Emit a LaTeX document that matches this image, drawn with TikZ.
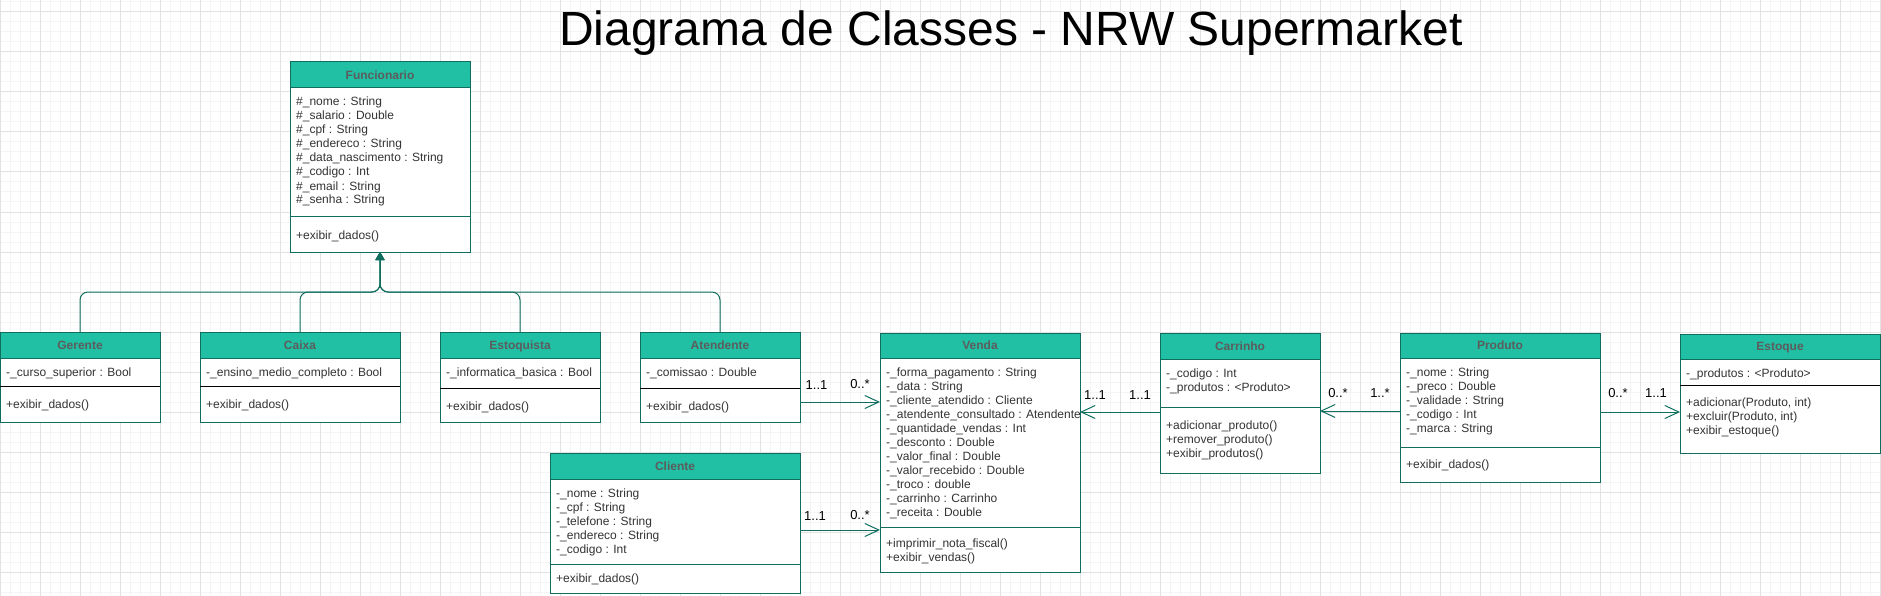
\documentclass[tikz,border=0pt]{standalone}
\usepackage{fontspec}
\setmainfont{Liberation Sans}
\usetikzlibrary{arrows.meta,calc}
\definecolor{tealfill}{HTML}{21C0A5}
\definecolor{tealline}{HTML}{0F6E5E}
\definecolor{hdrtext}{HTML}{5C5C5C}
\definecolor{bodytext}{HTML}{333333}
\definecolor{gridmin}{HTML}{F4F4F4}
\definecolor{gridmaj}{HTML}{E2E2E2}
\tikzset{
  classbox/.style={draw=tealline, fill=white, line width=1pt, inner sep=0pt, outer sep=0pt, anchor=north west},
  hdrbox/.style={draw=tealline, fill=tealfill, line width=1pt, inner sep=0pt, outer sep=0pt, anchor=north west,
    font=\fontsize{12}{14}\selectfont\bfseries, text=hdrtext, text height=8.6pt, text depth=0pt},
  txt/.style={anchor=base west, inner sep=0pt, font=\fontsize{12}{14}\selectfont, text=bodytext},
  mult/.style={inner sep=0pt, font=\fontsize{13}{15}\selectfont, text=black, text height=9.3pt, text depth=0pt},
  gen/.style={draw=tealline, line width=1pt, rounded corners=8pt, -{Triangle[length=8pt,width=9pt]}},
  assoc/.style={draw=tealline, line width=1pt, -{Straight Barb[length=14pt,width=13pt]}},
  gridminor/.style={draw=gridmin, line width=1pt},
  gridmajor/.style={draw=gridmaj, line width=1pt}
}
\newcommand\umlclass[9]{%
  \node[classbox, minimum width=#4pt, minimum height=#5pt] (#1) at (#2,#3) {};
  \node[hdrbox, minimum width=#4pt, minimum height=#6pt] (#1-h) at (#2,#3) {#9};
  \draw[draw=#8, line width=1pt] (#2,#7) -- (#2+#4,#7);
}
\newcommand\umllines[4]{%
  \foreach \ltext [count=\i] in {#4} {\node[txt] (#1-\i) at (#2,#3+14*\i-14) {\ltext};}
}
\begin{document}
\begin{tikzpicture}[x=1pt,y=-1pt]
\useasboundingbox (0,0) rectangle (1881,596);
\fill[white] (0,0) rectangle (1881,596);
\foreach \x in {0,10,...,1880} \draw[gridminor] (\x,0) -- (\x,596);
\foreach \y in {2,12,...,592} \draw[gridminor] (0,\y) -- (1881,\y);
\foreach \x in {0,40,...,1880} \draw[gridmajor] (\x,0) -- (\x,596);
\foreach \y in {12,52,...,572} \draw[gridmajor] (0,\y) -- (1881,\y);

\node[anchor=base, inner sep=0pt, font=\fontsize{48}{56}\selectfont] (title) at (1011,46) {Diagrama de Classes - NRW Supermarket};

% classes
\umlclass{fun}{290}{62}{180}{190}{26}{216}{tealline}{Funcionario}
\umllines{funa}{296}{106}{\#\_nome : String,\#\_salario : Double,\#\_cpf : String,\#\_endereco : String,\#\_data\_nascimento : String,\#\_codigo : Int,\#\_email : String,\#\_senha : String}
\umllines{funm}{296}{239}{+exibir\_dados()}

\umlclass{ger}{0}{332}{160}{90}{26}{386}{black}{Gerente}
\umllines{gera}{6}{376}{-\_curso\_superior : Bool}
\umllines{germ}{6}{408}{+exibir\_dados()}

\umlclass{cai}{200}{332}{200}{90}{26}{386}{black}{Caixa}
\umllines{caia}{206}{376}{-\_ensino\_medio\_completo : Bool}
\umllines{caim}{206}{408}{+exibir\_dados()}

\umlclass{esq}{440}{332}{160}{90}{26}{388}{black}{Estoquista}
\umllines{esqa}{446}{376}{-\_informatica\_basica : Bool}
\umllines{esqm}{446}{410}{+exibir\_dados()}

\umlclass{ate}{640}{332}{160}{90}{26}{388}{black}{Atendente}
\umllines{atea}{646}{376}{-\_comissao : Double}
\umllines{atem}{646}{410}{+exibir\_dados()}

\umlclass{ven}{880}{333}{200}{239}{25}{527}{tealline}{Venda}
\umllines{vena}{886}{376}{-\_forma\_pagamento : String,-\_data : String,-\_cliente\_atendido : Cliente,-\_atendente\_consultado : Atendente,-\_quantidade\_vendas : Int,-\_desconto : Double,-\_valor\_final : Double,-\_valor\_recebido : Double,-\_troco : double,-\_carrinho : Carrinho,-\_receita : Double}
\umllines{venm}{886}{547}{+imprimir\_nota\_fiscal(),+exibir\_vendas()}

\umlclass{cli}{550}{453}{250}{140}{26}{564}{tealline}{Cliente}
\umllines{clia}{556}{497}{-\_nome : String,-\_cpf : String,-\_telefone : String,-\_endereco : String,-\_codigo : Int}
\umllines{clim}{556}{582}{+exibir\_dados()}

\umlclass{car}{1160}{333}{160}{140}{26}{407}{tealline}{Carrinho}
\umllines{cara}{1166}{377}{-\_codigo : Int,-\_produtos : <Produto>}
\umllines{carm}{1166}{429}{+adicionar\_produto(),+remover\_produto(),+exibir\_produtos()}

\umlclass{pro}{1400}{333}{200}{149}{25}{447}{tealline}{Produto}
\umllines{proa}{1406}{376}{-\_nome : String,-\_preco : Double,-\_validade : String,-\_codigo : Int,-\_marca : String}
\umllines{prom}{1406}{468}{+exibir\_dados()}

\umlclass{est}{1680}{334}{200}{119}{25}{385}{black}{Estoque}
\umllines{esta}{1686}{377}{-\_produtos : <Produto>}
\umllines{estm}{1686}{406}{{+adicionar(Produto, int)},{+excluir(Produto, int)},+exibir\_estoque()}

% generalization
\coordinate (hub) at (380,292);
\draw[gen] (ger.north) -- (ger.north |- hub) -- (hub) -- (fun.south);
\draw[gen] (cai.north) -- (cai.north |- hub) -- (hub) -- (fun.south);
\draw[gen] (esq.north) -- (esq.north |- hub) -- (hub) -- (fun.south);
\draw[gen] (ate.north) -- (ate.north |- hub) -- (hub) -- (fun.south);

% associations
\coordinate (a1) at ([yshift=-25pt]ate.east);
\draw[assoc] (a1) -- (a1 -| ven.west);
\coordinate (a2) at ([yshift=-7pt]cli.east);
\draw[assoc] (a2) -- (a2 -| ven.west);
\coordinate (a3) at ([yshift=-9pt]car.west);
\draw[assoc] (a3) -- (a3 -| ven.east);
\coordinate (a4) at ([yshift=-3.5pt]pro.west);
\draw[assoc] (a4) -- (a4 -| car.east);
\coordinate (a5) at ([yshift=-4.5pt]pro.east);
\draw[assoc] (a5) -- (a5 -| est.west);

% multiplicities
\node[mult] (m1) at (816.5,385) {1..1};
\node[mult] (m2) at (860,384) {0..*};
\node[mult] (m3) at (815,516) {1..1};
\node[mult] (m4) at (860,515) {0..*};
\node[mult] (m5) at (1095,395) {1..1};
\node[mult] (m6) at (1140,395) {1..1};
\node[mult] (m7) at (1338,393) {0..*};
\node[mult] (m8) at (1380,393) {1..*};
\node[mult] (m9) at (1618,393) {0..*};
\node[mult] (m10) at (1656,393) {1..1};
\end{tikzpicture}
\end{document}
